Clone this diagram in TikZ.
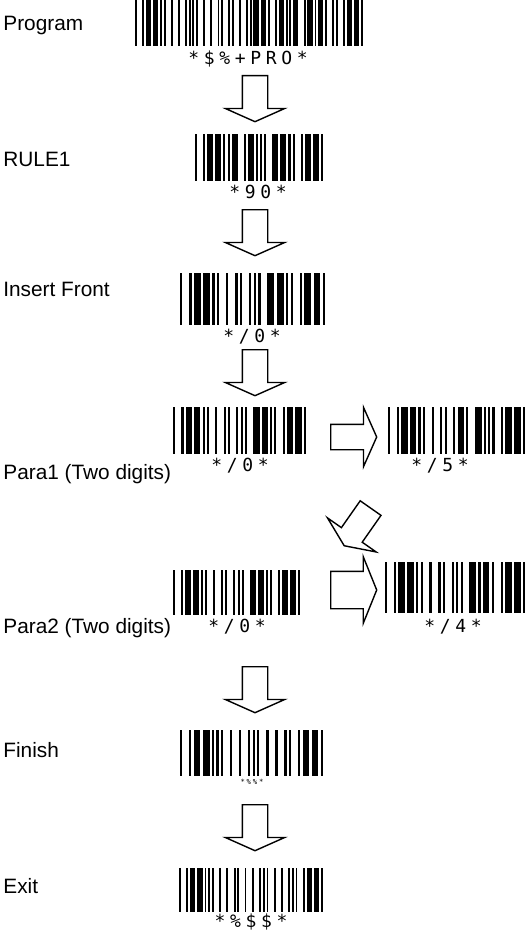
\documentclass[tikz,border=0pt]{standalone}
\usepackage{fontspec}
\setmainfont{Liberation Sans}
\newfontfamily\hrfont[LetterSpace=26]{DejaVu Sans Mono}
\usetikzlibrary{shapes.arrows,positioning}

% Code 39 patterns (bar space bar ... bar, 1 = wide)
\def\cdstar{0,1,0,0,1,0,1,0,0}
\def\cddollar{0,1,0,1,0,1,0,0,0}
\def\cdpercent{0,0,0,1,0,1,0,1,0}
\def\cdplus{0,1,0,0,0,1,0,1,0}
\def\cdslash{0,1,0,1,0,0,0,1,0}
\def\cdP{0,0,1,0,1,0,0,1,0}
\def\cdR{1,0,0,0,0,0,1,1,0}
\def\cdO{1,0,0,0,1,0,0,1,0}
\def\cdzero{0,0,0,1,1,0,1,0,0}
\def\cdfour{0,0,0,1,1,0,0,0,1}
\def\cdfive{1,0,0,1,1,0,0,0,0}
\def\cdnine{0,0,1,1,0,0,1,0,0}

% left x, top y, module, height, characters
\newcommand{\codebars}[5]{%
  \xdef\barx{#1}%
  \foreach \ch in {#5}{%
    \edef\pat{\csname cd\ch\endcsname}%
    \foreach \w [count=\k] in \pat{%
      \pgfmathsetmacro\bw{(\w==1 ? 3 : 1)*#3}%
      \ifodd\k\relax \fill (\barx,#2) rectangle ++(\bw,#4);\fi
      \pgfmathsetmacro\nx{\barx+\bw}%
      \xdef\barx{\nx}%
    }%
    \pgfmathsetmacro\nx{\barx+#3}%
    \xdef\barx{\nx}%
  }%
}

\begin{document}
\begin{tikzpicture}[
    x=0.5pt, y=-0.5pt,
    steplabel/.style={anchor=base west, inner sep=0pt, font=\fontsize{10.4}{12}\selectfont},
    readout/.style={inner sep=0pt, font=\hrfont\fontsize{9}{10}\selectfont},
    bigarrow/.style={single arrow, draw, line width=0.7pt, minimum height=23pt,
        inner xsep=0pt, inner ysep=6pt, single arrow head extend=8.5pt,
        single arrow tip angle=132, anchor=tail}
]
\useasboundingbox (0,0) rectangle (525,931);

% Step names
\node[steplabel] (program) at (3,31) {Program};
\node[steplabel] (rule) at (3,166) {RULE1};
\node[steplabel] (front) at (3,296) {Insert Front};
\node[steplabel] (paraA) at (3,479) {Para1 (Two digits)};
\node[steplabel] (paraB) at (3,633) {Para2 (Two digits)};
\node[steplabel] (finish) at (3,757) {Finish};
\node[steplabel] (exit) at (3,893) {Exit};

% Barcodes
\codebars{135}{0}{1.795}{46}{star,dollar,percent,plus,P,R,O,star}
\codebars{195}{134}{2.032}{47}{star,nine,zero,star}
\codebars{180}{273}{2.302}{52}{star,slash,zero,star}
\codebars{173}{407}{2.111}{47}{star,slash,zero,star}
\codebars{388}{407}{2.175}{47}{star,slash,five,star}
\codebars{173}{570}{2.016}{45}{star,slash,zero,star}
\codebars{385}{562}{2.222}{51}{star,slash,four,star}
\codebars{180}{730}{2.27}{46}{star,percent,percent,star}
\codebars{179}{868}{1.823}{44}{star,percent,dollar,dollar,star}

% Human readable lines
\node[readout] (txtprog) at (248,59) {*\$\%+PRO*};
\node[readout] (txtrule) at (258,192) {*90*};
\node[readout] (txtfront) at (252,337) {*/0*};
\node[readout] (txtparaA) at (240,466) {*/0*};
\node[readout] (txtparaAx) at (440,466) {*/5*};
\node[readout] (txtparaB) at (237,627) {*/0*};
\node[readout] (txtparaBx) at (453,627) {*/4*};
\node[readout, font=\hrfont\fontsize{3.6}{4}\selectfont] (txtfinish) at (252,782) {*\%\%*};
\node[readout] (txtexit) at (251,922) {*\%\$\$*};

% Block arrows
\node[bigarrow, rotate=-90] (down1) at (255,75) {};
\node[bigarrow, rotate=-90] (down2) at (255,209) {};
\node[bigarrow, rotate=-90] (down3) at (255,349) {};
\node[bigarrow] (right1) at (330,437) {};
\node[bigarrow, rotate=235] (back) at (371,507.5) {};
\node[bigarrow, inner ysep=9pt, single arrow head extend=7.3pt, single arrow tip angle=136] (right2) at (330,590) {};
\node[bigarrow, rotate=-90] (down4) at (255,666) {};
\node[bigarrow, rotate=-90] (down5) at (255,804) {};

\end{tikzpicture}
\end{document}
